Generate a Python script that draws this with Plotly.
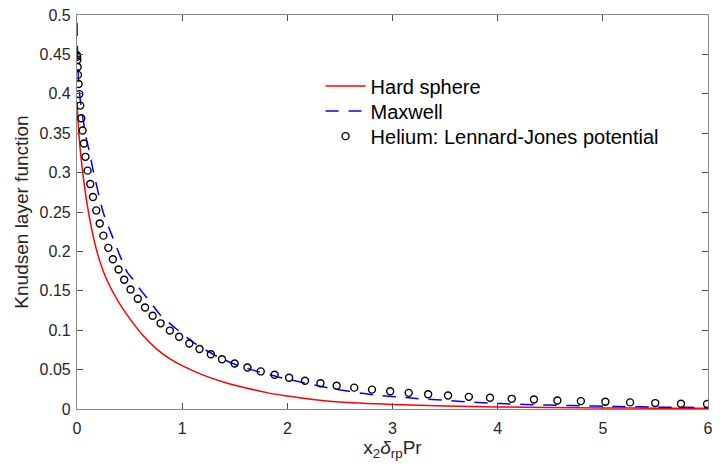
import plotly.graph_objects as go

# ---- data ----
hs_x = [0.0, 0.006, 0.015, 0.03, 0.05, 0.09, 0.14, 0.20, 0.28, 0.39, 0.50, 0.63, 0.75, 0.88,
        1.0, 1.2, 1.4, 1.6, 1.85, 2.0, 2.17, 2.5, 3.0, 3.5, 4.0, 4.5, 5.0, 5.5, 6.0]
hs_y = [0.39, 0.375, 0.355, 0.33, 0.305, 0.265, 0.228, 0.195, 0.165, 0.137, 0.115, 0.093,
        0.077, 0.064, 0.055, 0.043, 0.034, 0.027, 0.0195, 0.0165, 0.0133, 0.0088, 0.0057,
        0.0038, 0.0026, 0.0019, 0.0014, 0.0011, 0.0008]

mx_x = [0.0, 0.002, 0.005, 0.01, 0.022, 0.04, 0.09, 0.12, 0.15, 0.25, 0.33, 0.41, 0.48, 0.53,
        0.61, 0.69, 0.79, 0.96, 1.12, 1.33, 1.54, 1.74, 1.95, 2.17, 2.39, 2.6, 2.82, 3.04,
        3.27, 3.48, 3.7, 3.92, 4.15, 4.37, 4.59, 4.81, 5.03, 5.25, 5.46, 5.68, 5.9, 6.0]
mx_y = [0.49, 0.47, 0.452, 0.43, 0.403, 0.383, 0.342, 0.3255, 0.305, 0.249, 0.221, 0.194,
        0.173, 0.165, 0.150, 0.137, 0.1196, 0.0999, 0.0832, 0.0669, 0.0547, 0.0468, 0.0393,
        0.033, 0.0267, 0.0221, 0.018, 0.0154, 0.0129, 0.0113, 0.0092, 0.0075, 0.0063,
        0.0054, 0.0045, 0.0041, 0.0033, 0.0029, 0.0025, 0.0022, 0.002, 0.0019]

lj_x = [0.0, 0.001, 0.003, 0.006, 0.009, 0.015, 0.022, 0.031, 0.041, 0.053, 0.066, 0.080,
        0.101, 0.126, 0.152, 0.183, 0.216, 0.251, 0.298, 0.341, 0.395, 0.449, 0.509, 0.578,
        0.647, 0.719, 0.795, 0.883, 0.971, 1.068, 1.165, 1.273, 1.379, 1.499, 1.621, 1.747,
        1.879, 2.017, 2.168, 2.315, 2.469, 2.636, 2.805, 2.978, 3.154, 3.339, 3.528, 3.726,
        3.927, 4.134, 4.345, 4.568, 4.791, 5.024, 5.259, 5.498, 5.743, 5.991]
lj_y = [0.449, 0.447, 0.443, 0.434, 0.424, 0.4125, 0.3996, 0.385, 0.369, 0.3535, 0.337,
        0.320, 0.3025, 0.2855, 0.269, 0.252, 0.2355, 0.220, 0.2045, 0.190, 0.177, 0.164,
        0.1517, 0.140, 0.1288, 0.1184, 0.1087, 0.0995, 0.0916, 0.0832, 0.0761, 0.0694,
        0.0631, 0.0577, 0.0527, 0.0477, 0.0434, 0.0397, 0.0359, 0.0326, 0.0296, 0.0271,
        0.0246, 0.0226, 0.0205, 0.0188, 0.0171, 0.0154, 0.0142, 0.0129, 0.0121, 0.0108,
        0.0100, 0.0092, 0.0084, 0.0075, 0.0067, 0.0063]

x_ticks = [0, 1, 2, 3, 4, 5, 6]
x_ticktext = ["0", "1", "2", "3", "4", "5", "6"]
y_ticks = [0, 0.05, 0.1, 0.15, 0.2, 0.25, 0.3, 0.35, 0.4, 0.45, 0.5]
y_ticktext = ["0", "0.05", "0.1", "0.15", "0.2", "0.25", "0.3", "0.35", "0.4", "0.45", "0.5"]

FONT = "Liberation Sans, Arial, Helvetica, sans-serif"
AX = "#262626"

fig = go.Figure()
fig.add_trace(go.Scatter(x=hs_x, y=hs_y, mode="lines", name="Hard sphere", legend="legend",
                         showlegend=True,
                         line=dict(color="#ff0000", width=1.5, shape="spline", smoothing=0.6)))
fig.add_trace(go.Scatter(x=mx_x, y=mx_y, mode="lines", name="Maxwell", legend="legend2",
                         showlegend=True,
                         line=dict(color="#0000ff", width=1.5, dash="13px,10px",
                                   shape="spline", smoothing=0.6)))
fig.add_trace(go.Scatter(x=lj_x, y=lj_y, mode="markers", name="Helium: Lennard-Jones potential",
                         legend="legend3", showlegend=True,
                         marker=dict(symbol="circle-open", size=7, color="black",
                                     line=dict(width=1.4, color="black"))))

axis_common = dict(showline=True, linecolor="#8a8a8a", linewidth=1.2, mirror="ticks",
                   ticks="inside", ticklen=6, tickwidth=1, tickcolor="#505050",
                   showgrid=False, zeroline=False,
                   tickfont=dict(family=FONT, size=16, color=AX))

fig.update_xaxes(range=[0, 6], tickvals=x_ticks, ticktext=x_ticktext,
                 ticklabelstandoff=5,
                 title=dict(text="x<sub>2</sub><i>δ</i><sub>rp</sub>Pr",
                            font=dict(family=FONT, size=19, color=AX), standoff=2),
                 **axis_common)
fig.update_yaxes(range=[0, 0.5], tickvals=y_ticks, ticktext=y_ticktext,
                 ticklabelstandoff=2,
                 title=dict(text="Knudsen layer function",
                            font=dict(family=FONT, size=19, color=AX), standoff=5),
                 **axis_common)

leg_common = dict(x=0.386, xanchor="left", yanchor="top", bgcolor="rgba(0,0,0,0)",
                  borderwidth=0, font=dict(family=FONT, size=20, color="black"),
                  itemwidth=40, visible=True)

fig.update_layout(
    width=720, height=469,
    margin=dict(l=77, r=7, t=11, b=60),
    paper_bgcolor="white", plot_bgcolor="white",
    font=dict(family=FONT, color=AX),
    showlegend=True,
    legend=dict(y=0.869, **leg_common),
    legend2=dict(y=0.806, **leg_common),
    legend3=dict(y=0.742, **leg_common),
)

fig.write_html("out.html")
